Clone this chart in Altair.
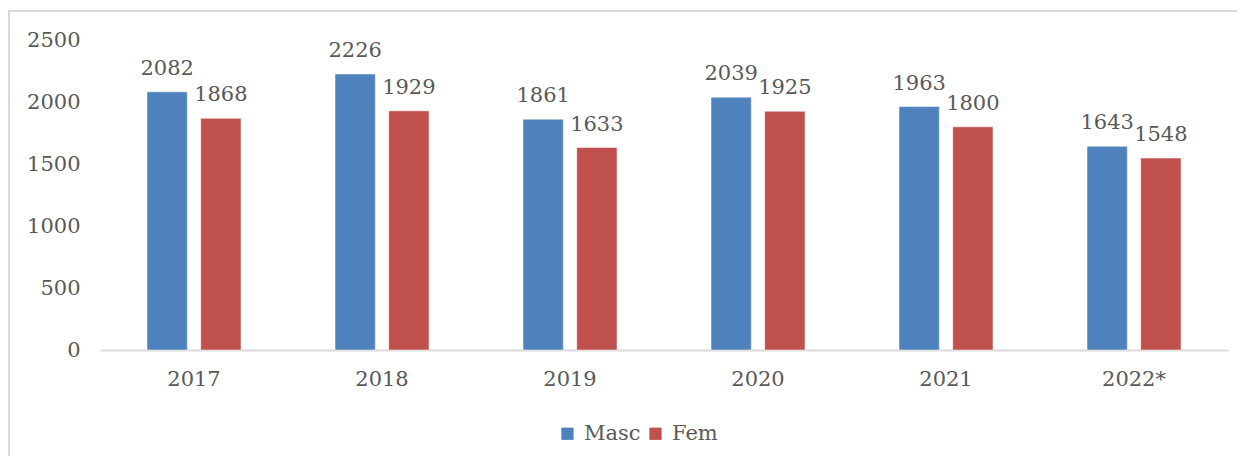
import altair as alt
import pandas as pd

years = ["2017", "2018", "2019", "2020", "2021", "2022*"]
masc = [2082, 2226, 1861, 2039, 1963, 1643]
fem = [1868, 1929, 1633, 1925, 1800, 1548]
series = ["Masc", "Fem"]
colors = ["#4f81bd", "#c0504d"]

rows = []
for y, m, f in zip(years, masc, fem):
    rows.append({"year": y, "sex": "Masc", "value": m})
    rows.append({"year": y, "sex": "Fem", "value": f})
df = pd.DataFrame(rows)

FONT = "DejaVu Serif"
TXT = "#595959"
FS = 21

x = alt.X("year:N", sort=years, title=None,
          scale=alt.Scale(paddingInner=0.5, paddingOuter=0.25),
          axis=alt.Axis(labelAngle=0, labelFont=FONT, labelFontSize=FS, labelColor=TXT,
                        labelPadding=18, ticks=False, domainColor="#d9d9d9", domainWidth=2))
xo = alt.XOffset("sex:N", sort=series, scale=alt.Scale(paddingInner=0.25, paddingOuter=0))
y = alt.Y("value:Q", title=None,
          scale=alt.Scale(domain=[0, 2500], nice=False),
          axis=alt.Axis(values=[0, 500, 1000, 1500, 2000, 2500], format="d", grid=False, domain=False,
                        ticks=False, labelFont=FONT, labelFontSize=FS, labelColor=TXT,
                        labelPadding=20))

bars = alt.Chart(df).mark_bar(stroke="white", strokeWidth=0.5).encode(
    x=x, xOffset=xo, y=y,
    color=alt.Color("sex:N", sort=series, title=None,
                    scale=alt.Scale(domain=series, range=colors),
                    legend=alt.Legend(orient="none", legendX=457, legendY=383, direction="horizontal",
                                      symbolType="square", symbolSize=150, symbolStrokeWidth=0,
                                      labelFont=FONT, labelFontSize=FS, labelColor=TXT,
                                      columnPadding=4, labelOffset=6)),
)

labels = alt.Chart(df).mark_text(font=FONT, fontSize=FS, color=TXT, dy=-17, baseline="alphabetic").encode(
    x=alt.X("year:N", sort=years), xOffset=xo, y="value:Q", text="value:Q"
)

frame = alt.Chart(pd.DataFrame({"a": [0]})).mark_rect(fill=None, stroke="#d9d9d9", strokeWidth=2).encode(
    x=alt.value(-91), x2=alt.value(1200), y=alt.value(-29), y2=alt.value(500)
)

chart = alt.layer(frame, bars, labels).properties(
    width=1128, height=310,
    autosize=alt.AutoSizeParams(type="none"),
    padding={"left": 92, "top": 32, "right": 9, "bottom": 106},
).configure(background="white").configure_view(stroke=None)

chart.save("out.html", embed_options={"renderer": "svg", "actions": False})
